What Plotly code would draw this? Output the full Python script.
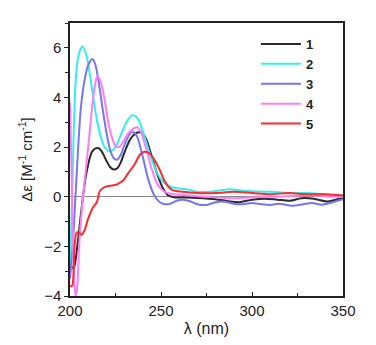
import plotly.graph_objects as go

# Series data (wavelength in nm, delta epsilon)
wl1 = [200, 202, 204, 206, 208, 210, 212, 214, 216, 218, 220, 222, 224, 226, 228, 230, 233, 236, 238, 240, 242, 245, 248, 251, 254, 257, 262, 270, 280, 287, 293, 300, 307, 314, 321, 327, 334, 341, 346, 350]
de1 = [-2.7, -2.9, -2.0, -0.7, 0.5, 1.3, 1.8, 1.95, 1.95, 1.75, 1.45, 1.2, 1.1, 1.15, 1.4, 1.8, 2.3, 2.55, 2.6, 2.55, 2.3, 1.6, 0.9, 0.35, 0.05, -0.02, -0.03, -0.05, -0.1, -0.18, -0.22, -0.12, -0.08, -0.12, -0.16, -0.06, -0.08, -0.19, -0.12, -0.05]

wl2 = [200, 201, 202, 203, 204, 205.5, 207, 209, 211, 213, 215, 217, 219, 221, 223, 225, 228, 231, 234, 236, 238, 241, 244, 247, 250, 254, 258, 264, 270, 276, 282, 288, 294, 300, 310, 320, 330, 340, 350]
de2 = [-3.0, -0.5, 2.5, 4.5, 5.4, 5.9, 6.05, 5.7, 4.9, 3.9, 3.0, 2.4, 2.0, 1.85, 1.85, 2.0, 2.5, 3.0, 3.28, 3.25, 3.05, 2.4, 1.7, 1.1, 0.7, 0.45, 0.35, 0.3, 0.2, 0.2, 0.25, 0.3, 0.25, 0.22, 0.2, 0.15, 0.15, 0.1, 0.05]

wl3 = [200, 201.5, 203, 204.5, 206, 208, 210, 212.3, 214, 216, 218, 220, 222, 224, 226, 228, 230, 233, 235, 237, 240, 243, 246, 249, 252, 255, 259, 262, 266, 270, 275, 280, 285, 290, 295, 300, 305, 310, 315, 322, 328, 333, 338, 343, 350]
de3 = [-3.3, -2.0, 0.0, 2.0, 3.6, 4.7, 5.3, 5.55, 5.3, 4.5, 3.5, 2.6, 1.9, 1.55, 1.5, 1.7, 2.1, 2.55, 2.6, 2.4, 1.6, 0.7, 0.1, -0.2, -0.3, -0.28, -0.15, -0.12, -0.18, -0.3, -0.33, -0.22, -0.2, -0.28, -0.3, -0.25, -0.3, -0.33, -0.28, -0.36, -0.3, -0.25, -0.32, -0.25, -0.1]

wl4 = [200, 201, 202, 203, 204, 205, 206.5, 208, 210, 212, 213.5, 215, 217, 219, 221, 223, 225, 227, 229, 232, 235, 237, 239, 242, 245, 248, 251, 255, 260, 265, 275, 285, 295, 305, 315, 325, 335, 345, 350]
de4 = [3.8, 0.5, -2.8, -4.0, -3.6, -2.0, -0.5, 0.6, 2.0, 3.5, 4.4, 4.85, 4.6, 3.9, 3.0, 2.4, 2.05, 2.0, 2.2, 2.55, 2.75, 2.8, 2.6, 1.9, 1.1, 0.5, 0.25, 0.12, 0.08, 0.05, 0.0, -0.05, -0.05, 0.0, 0.0, 0.05, 0.05, 0.0, 0.0]

wl5 = [200, 201.1, 202.5, 203.7, 205, 206.4, 208, 209.9, 212.6, 214.7, 216.5, 219.2, 222, 224.7, 227, 229.1, 232, 235.7, 238.5, 241.2, 243.5, 246.7, 249.5, 252.2, 256, 262, 270, 280, 290, 300, 310, 320, 330, 340, 350]
de5 = [-3.6, -3.6, -2.0, -1.43, -1.45, -1.53, -1.35, -0.9, -0.43, -0.23, 0.24, 0.4, 0.44, 0.47, 0.55, 0.64, 0.95, 1.33, 1.7, 1.81, 1.75, 1.45, 1.05, 0.6, 0.28, 0.2, 0.15, 0.15, 0.2, 0.15, 0.1, 0.15, 0.1, 0.1, 0.05]

names = ["1", "2", "3", "4", "5"]
colors = ["#2b2b2b", "#33eef0", "#7676f4", "#ff7cf6", "#ff2a2a"]
xs = [wl1, wl2, wl3, wl4, wl5]
ys = [de1, de2, de3, de4, de5]

x_ticks = [200, 250, 300, 350]
y_ticks = [-4, -2, 0, 2, 4, 6]

FONT = "Liberation Sans, Arial"

fig = go.Figure()
for i in range(5):
    fig.add_trace(go.Scatter(
        x=xs[i], y=ys[i], mode="lines", name="<b>%s</b>" % names[i],
        line=dict(color=colors[i], width=2, shape="spline", smoothing=0.8),
    ))

axis_common = dict(
    showline=True, linecolor="#222", linewidth=1.5, mirror=True,
    ticklen=4, tickwidth=1, tickcolor="#222", automargin=False,
    showgrid=False, tickfont=dict(family=FONT, size=15, color="#222"),
)

# the page body adds an 8px offset; size/margins compensate for it
fig.update_layout(
    width=368, height=337,
    margin=dict(l=62, r=33, t=15, b=49, autoexpand=False),
    paper_bgcolor="white", plot_bgcolor="white",
    showlegend=True,
    legend=dict(
        x=0.681, y=0.978, xanchor="left", yanchor="top",
        bgcolor="rgba(0,0,0,0)", borderwidth=0,
        font=dict(family=FONT, size=13, color="#222"),
        itemwidth=40, tracegroupgap=0,
    ),
    xaxis=dict(
        range=[200, 350], tickvals=x_ticks, zeroline=False, ticks="inside",
        minor=dict(ticks="inside", ticklen=3, tickcolor="#222", dtick=25, tick0=200),
        title=dict(text="λ (nm)", font=dict(family=FONT, size=16, color="#222"), standoff=5),
        **axis_common,
    ),
    yaxis=dict(
        range=[-4, 7], tickvals=y_ticks, zeroline=True, zerolinecolor="#888", zerolinewidth=1,
        ticks="outside",
        minor=dict(ticks="outside", ticklen=3, tickcolor="#222", dtick=1, tick0=0),
        title=dict(text="Δε [M<sup>-1</sup> cm<sup>-1</sup>]", font=dict(family=FONT, size=15, color="#222"), standoff=8),
        **axis_common,
    ),
)

fig.write_html("out.html")
